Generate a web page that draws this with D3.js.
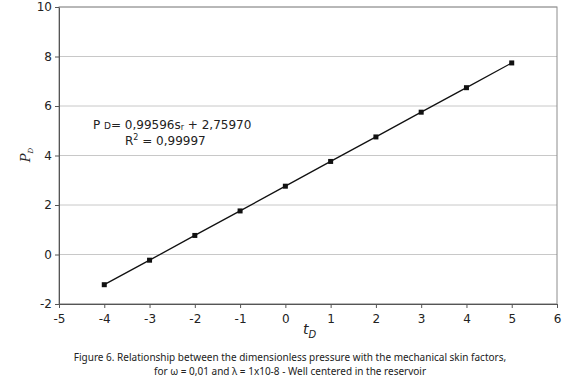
<!DOCTYPE html>
<html lang="en">
<head>
<meta charset="UTF-8">
<title>Figure 6</title>
<style>
    body { margin: 0; background: #fff; font-family: "DejaVu Sans", Verdana, sans-serif; }
    svg { display: block; }
</style>
</head>
<body>
<svg id="chart" width="580" height="387"></svg>
<script src="https://d3js.org/d3.v7.min.js"></script>
<script>
    // data
    const skin = [-4, -3, -2, -1, 0, 1, 2, 3, 4, 5];
    const pressure = [-1.22, -0.23, 0.77, 1.76, 2.76, 3.76, 4.75, 5.75, 6.74, 7.74];
    const xTicks = [-5, -4, -3, -2, -1, 0, 1, 2, 3, 4, 5, 6];
    const yTicks = [-2, 0, 2, 4, 6, 8, 10];
    const captionLines = [
        "Figure 6. Relationship between the dimensionless pressure with the mechanical skin factors,",
        "for \u03c9 = 0,01 and \u03bb = 1x10-8 - Well centered in the reservoir"
    ];

    const svg = d3.select('#chart');
    const plotL = 59, plotR = 557, plotT = 7, plotB = 304;
    const tickFont = '"DejaVu Sans", Verdana, sans-serif';

    const x = d3.scaleLinear().domain([-5, 6]).range([plotL, plotR]);
    const y = d3.scaleLinear().domain([-2, 10]).range([plotB, plotT]);

    // gridlines
    svg.append('g')
        .selectAll('line')
        .data(yTicks)
        .enter()
        .append('line')
        .attr('x1', plotL).attr('x2', plotR)
        .attr('y1', d => y(d)).attr('y2', d => y(d))
        .attr('stroke', '#c8c8c8')
        .attr('stroke-width', 1);

    // plot border
    svg.append('rect')
        .attr('x', plotL).attr('y', plotT)
        .attr('width', plotR - plotL).attr('height', plotB - plotT)
        .attr('fill', 'none')
        .attr('stroke', '#8c8c8c');

    const fmt = d => String(d); // plain hyphen for negatives, as in the figure
    const xAxis = svg.append('g')
        .attr('transform', `translate(0,${plotB})`)
        .call(d3.axisBottom(x).tickValues(xTicks).tickSize(4).tickSizeOuter(0).tickFormat(fmt));
    const yAxis = svg.append('g')
        .attr('transform', `translate(${plotL},0)`)
        .call(d3.axisLeft(y).tickValues(yTicks).tickSize(4).tickSizeOuter(0).tickFormat(fmt));

    [xAxis, yAxis].forEach(a => {
        a.attr('font-family', tickFont).attr('font-size', 12);
        a.select('.domain').attr('stroke', '#555');
        a.selectAll('.tick line').attr('stroke', '#555');
        a.selectAll('.tick text').attr('fill', '#222');
    });
    xAxis.selectAll('.tick text').attr('dy', '1em').attr('y', 7);
    yAxis.selectAll('.tick text').attr('x', -7);

    // data line and markers
    const pts = skin.map((s, i) => [s, pressure[i]]);
    svg.append('path')
        .datum(pts)
        .attr('fill', 'none')
        .attr('stroke', '#111')
        .attr('stroke-width', 1.3)
        .attr('d', d3.line().x(d => x(d[0])).y(d => y(d[1])));

    svg.append('g')
        .selectAll('rect')
        .data(pts)
        .enter()
        .append('rect')
        .attr('x', d => x(d[0]) - 2.5)
        .attr('y', d => y(d[1]) - 2.5)
        .attr('width', 5).attr('height', 5)
        .attr('fill', '#111');

    // regression equation
    const eq = svg.append('text')
        .attr('x', 93).attr('y', 129)
        .attr('font-family', tickFont)
        .attr('font-size', '12px')
        .attr('fill', '#222');
    eq.append('tspan').text('P ');
    eq.append('tspan').attr('font-size', '9px').text('D');
    eq.append('tspan').text('= 0,99596s');
    eq.append('tspan').attr('font-size', '8px').attr('dy', 1).text('r');
    eq.append('tspan').attr('dy', -1).text(' + 2,75970');

    const r2 = svg.append('text')
        .attr('x', 125).attr('y', 145)
        .attr('font-family', tickFont)
        .attr('font-size', '12px')
        .attr('fill', '#222');
    r2.append('tspan').text('R');
    r2.append('tspan').attr('font-size', '8px').attr('dy', -5).text('2');
    r2.append('tspan').attr('dy', 5).text(' = 0,99997');

    // axis titles
    const yl = svg.append('text')
        .attr('transform', 'translate(30,155) rotate(-90)')
        .attr('text-anchor', 'middle')
        .attr('font-family', '"DejaVu Serif", serif')
        .attr('font-style', 'italic')
        .attr('font-size', '13px')
        .attr('fill', '#222');
    yl.append('tspan').text('P');
    yl.append('tspan').attr('font-size', '7px').attr('dy', 3).text('D');

    const xl = svg.append('text')
        .attr('x', 303).attr('y', 334)
        .attr('font-family', tickFont)
        .attr('font-style', 'italic')
        .attr('font-size', '14px')
        .attr('fill', '#222');
    xl.append('tspan').text('t');
    xl.append('tspan').attr('font-size', '10px').attr('dy', 4).text('D');

    // caption
    svg.append('g')
        .selectAll('text')
        .data(captionLines)
        .enter()
        .append('text')
        .attr('x', 290)
        .attr('y', (d, i) => 361 + i * 14)
        .attr('text-anchor', 'middle')
        .attr('font-family', '"Noto Sans", sans-serif')
        .attr('font-size', '10px')
        .attr('fill', '#222')
        .text(d => d);
</script>
</body>
</html>
